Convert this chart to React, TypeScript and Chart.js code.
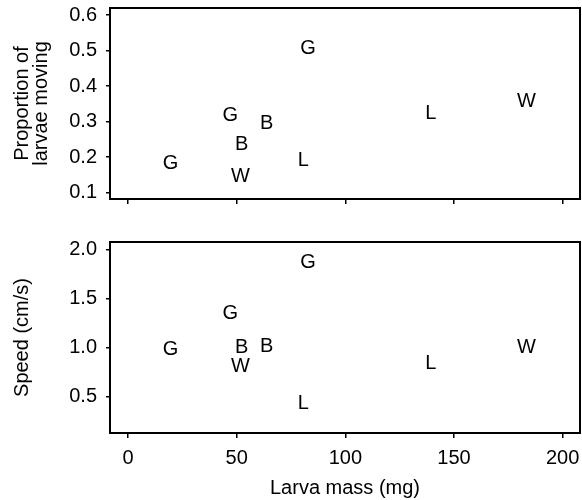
import React, { useEffect, useRef } from 'react';
import { Chart, registerables } from 'chart.js';

Chart.register(...registerables);

// ---- data ----
const groups = ['G', 'G', 'B', 'W', 'B', 'L', 'G', 'L', 'W'];
const larvaMass = [19.6, 47.1, 52.3, 51.7, 63.8, 80.7, 82.8, 139.3, 183.4];
const proportionMoving = [0.183, 0.316, 0.237, 0.147, 0.294, 0.192, 0.506, 0.323, 0.356];
const speed = [0.98, 1.346, 1.0, 0.81, 1.01, 0.43, 1.864, 0.834, 1.0];
const xTicks = [0, 50, 100, 150, 200];
const proportionTicks = [0.1, 0.2, 0.3, 0.4, 0.5, 0.6];
const speedTicks = [0.5, 1.0, 1.5, 2.0];

const FONT = 'Liberation Sans, Arial, Helvetica, sans-serif';

const letterPlugin = {
  id: 'letterMarks',
  afterDatasetsDraw(chart: any) {
    const ctx = chart.ctx;
    const meta = chart.getDatasetMeta(0);
    ctx.save();
    ctx.font = `20px ${FONT}`;
    ctx.fillStyle = '#000';
    ctx.textAlign = 'center';
    ctx.textBaseline = 'middle';
    meta.data.forEach((el: any, i: number) => {
      ctx.fillText(groups[i], el.x, el.y);
    });
    ctx.restore();
  },
};

const framePlugin = {
  id: 'frame',
  afterDraw(chart: any) {
    const { ctx, chartArea } = chart;
    ctx.save();
    ctx.strokeStyle = '#000';
    ctx.lineWidth = 2;
    ctx.strokeRect(chartArea.left, chartArea.top, chartArea.right - chartArea.left, chartArea.bottom - chartArea.top);
    ctx.restore();
  },
};

function makeConfig(opts: {
  yValues: number[];
  yTicks: number[];
  yMin: number;
  yMax: number;
  yTitle: string | string[];
  showXLabels: boolean;
  padTop: number;
  xHeight: number;
}) {
  const points = larvaMass.map((m, i) => ({ x: m, y: opts.yValues[i] }));
  return {
    type: 'scatter' as const,
    data: {
      datasets: [
        {
          data: points,
          pointRadius: 0,
          pointHoverRadius: 0,
          showLine: false,
        },
      ],
    },
    options: {
      responsive: false,
      animation: false as const,
      devicePixelRatio: 1,
      layout: { padding: { top: opts.padTop, right: 2, left: 0, bottom: 0 } },
      plugins: { legend: { display: false }, tooltip: { enabled: false } },
      events: [],
      scales: {
        x: {
          type: 'linear' as const,
          min: -8.3,
          max: 208,
          afterBuildTicks: (scale: any) => {
            scale.ticks = xTicks.map((v) => ({ value: v }));
          },
          afterFit: (scale: any) => {
            scale.height = opts.xHeight;
            scale.paddingLeft = 0;
            scale.paddingRight = 0;
          },
          grid: { drawOnChartArea: false, drawTicks: true, tickLength: 5, color: '#000', lineWidth: 1.5 },
          border: { display: false },
          ticks: {
            display: opts.showXLabels,
            color: '#000',
            padding: 8,
            maxRotation: 0,
            font: { family: FONT, size: 20 },
            callback: (v: any) => String(v),
          },
          title: {
            display: opts.showXLabels,
            text: 'Larva mass (mg)',
            color: '#000',
            padding: 0,
            font: { family: FONT, size: 20, lineHeight: 1.2 },
          },
        },
        y: {
          type: 'linear' as const,
          min: opts.yMin,
          max: opts.yMax,
          afterBuildTicks: (scale: any) => {
            scale.ticks = opts.yTicks.map((v) => ({ value: v }));
          },
          afterFit: (scale: any) => {
            scale.width = 110;
            scale.paddingTop = 0;
            scale.paddingBottom = 0;
          },
          grid: { drawOnChartArea: false, drawTicks: true, tickLength: 4, color: '#000', lineWidth: 1.5 },
          border: { display: false },
          ticks: {
            color: '#000',
            padding: 9,
            font: { family: FONT, size: 20 },
            callback: (v: any) => Number(v).toFixed(1),
          },
          title: {
            display: true,
            text: opts.yTitle,
            color: '#000',
            padding: { top: 13, bottom: 0 },
            font: { family: FONT, size: 20, lineHeight: 0.95 },
          },
        },
      },
    },
    plugins: [letterPlugin, framePlugin],
  };
}

export default function App() {
  const topRef = useRef<HTMLCanvasElement>(null);
  const bottomRef = useRef<HTMLCanvasElement>(null);

  useEffect(() => {
    const top = new Chart(
      topRef.current as HTMLCanvasElement,
      makeConfig({
        yValues: proportionMoving,
        yTicks: proportionTicks,
        yMin: 0.0823,
        yMax: 0.6197,
        yTitle: ['Proportion of', 'larvae moving'],
        showXLabels: false,
        padTop: 8,
        xHeight: 21,
      }) as any
    );
    const bottom = new Chart(
      bottomRef.current as HTMLCanvasElement,
      makeConfig({
        yValues: speed,
        yTicks: speedTicks,
        yMin: 0.128,
        yMax: 2.074,
        yTitle: 'Speed (cm/s)',
        showXLabels: true,
        padTop: 22,
        xHeight: 67,
      }) as any
    );
    return () => {
      top.destroy();
      bottom.destroy();
    };
  }, []);

  return (
    <div style={{ position: 'absolute', left: 0, top: 0, width: 582, height: 500, background: '#fff' }}>
      <canvas ref={topRef} width={582} height={220} style={{ position: 'absolute', left: 0, top: 0, width: 582, height: 220 }} />
      <canvas ref={bottomRef} width={582} height={280} style={{ position: 'absolute', left: 0, top: 220, width: 582, height: 280 }} />
    </div>
  );
}
